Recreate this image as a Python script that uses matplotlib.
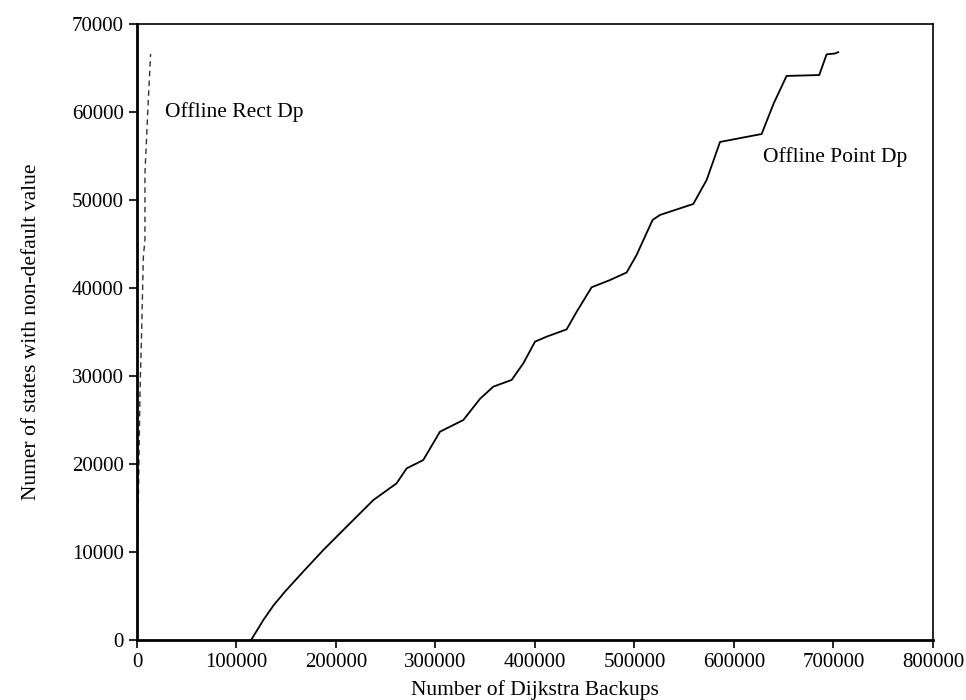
import matplotlib
matplotlib.use('Agg')
import matplotlib.pyplot as plt
import numpy as np

plt.rcParams['font.family'] = ['Liberation Serif', 'DejaVu Serif']

# Offline Rect Dp (dashed)
rect_x = [0, 300, 1300, 3000, 4700, 6400, 8000, 8000, 11400, 13700]
rect_y = [0, 10000, 15150, 28000, 35200, 43500, 45500, 53000, 61400, 66600]

# Offline Point Dp (solid)
point_x = [114600, 115800, 127000, 137000, 148700, 165500, 187300, 210700, 237500,
           260900, 271000, 287700, 304500, 328000, 344700, 358100, 376500, 388300,
           400000, 411700, 431800, 441900, 456900, 475300, 492100, 502100, 518200,
           525600, 559100, 572500, 586000, 627800, 640000, 652900, 685700, 693100,
           701500, 704800]
point_y = [0, 200, 2270, 3900, 5490, 7580, 10230, 12880, 15900,
           17800, 19500, 20450, 23670, 25000, 27400, 28790, 29550, 31440,
           33900, 34470, 35300, 37300, 40080, 40900, 41760, 43750, 47730,
           48300, 49550, 52270, 56600, 57500, 61000, 64100, 64200, 66550,
           66650, 66800]

xticks = [0, 100000, 200000, 300000, 400000, 500000, 600000, 700000, 800000]
yticks = [0, 10000, 20000, 30000, 40000, 50000, 60000, 70000]

fig = plt.figure(figsize=(9.66, 7.0), dpi=100)
ax = fig.add_axes([0.1418, 0.0857, 0.824, 0.88])

ax.plot(rect_x, rect_y, color='#333333', lw=1.0, ls=(0, (4, 3)))
ax.plot(point_x, point_y, color='black', lw=1.3)

ax.text(28000, 60000, 'Offline Rect Dp', fontsize=15.5, va='center', ha='left')
ax.text(629000, 54900, 'Offline Point Dp', fontsize=15.5, va='center', ha='left')

ax.set_xlim(0, 800000)
ax.set_ylim(0, 70000)
ax.set_xticks(xticks)
ax.set_yticks(yticks)
ax.set_xticklabels([str(v) for v in xticks])
ax.set_yticklabels([str(v) for v in yticks])
ax.tick_params(direction='out', length=6, width=1.2, labelsize=15, top=False, right=False)

for s in ['left', 'bottom']:
    ax.spines[s].set_linewidth(2.0)
for s in ['top', 'right']:
    ax.spines[s].set_linewidth(1.2)

ax.set_xlabel('Number of Dijkstra Backups', fontsize=15.5, labelpad=6)
ax.set_ylabel('Numer of states with non-default value', fontsize=15.5, labelpad=22)

fig.savefig('out.png', dpi=100)
